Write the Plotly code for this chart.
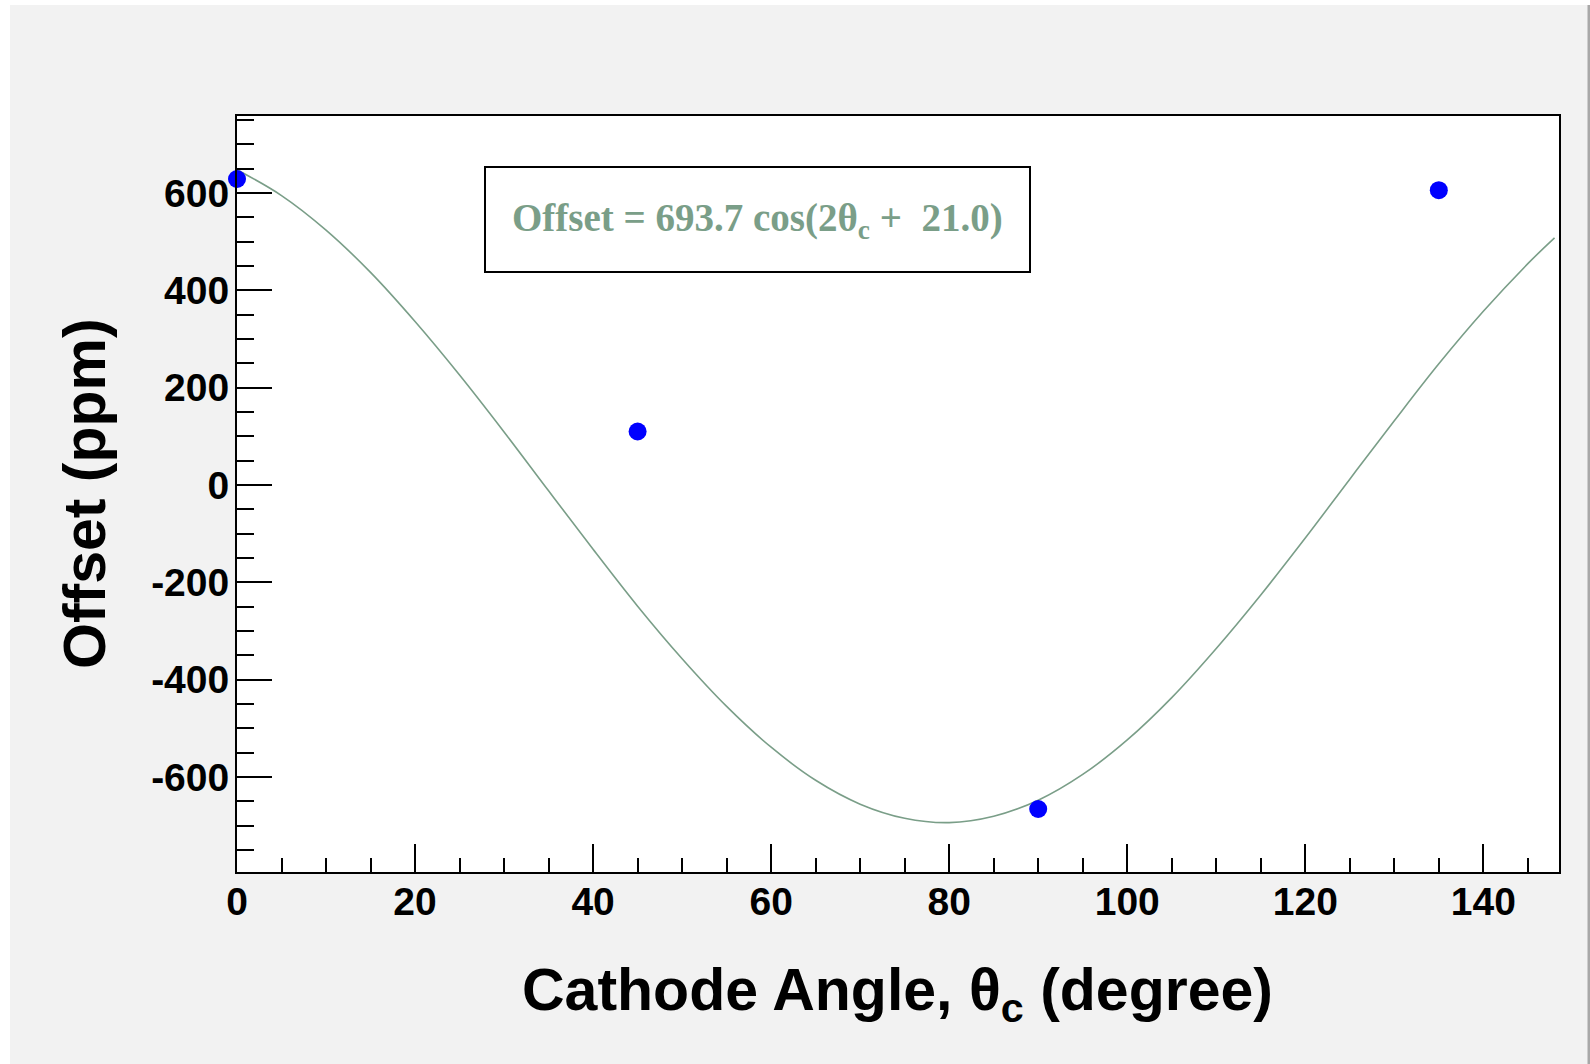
import plotly.graph_objects as go

# Measured points
theta_pts = [0, 45, 90, 135]
offset_pts = [629, 110, -666, 606]

# Fit curve, values
theta_fit = [0, 5, 10, 15, 20, 25, 30, 35, 40, 45, 50, 55, 60, 65, 70, 75, 80, 85,
             90, 95, 100, 105, 110, 115, 120, 125, 130, 135, 140, 145, 148]
offset_fit = [648, 595, 524, 437, 336, 226, 109, -12, -132, -249, -357, -455, -539,
              -607, -656, -685, -694, -681, -648, -595, -524, -437, -336, -226,
              -109, 12, 132, 249, 357, 455, 508]

fit_label = "Offset = 693.7 cos(2θ<sub>c</sub> + \u00a021.0)"
x_title = "Cathode Angle, θ<sub>c</sub> (degree)"
y_title = "Offset (ppm)"
x_ticks = [0, 20, 40, 60, 80, 100, 120, 140]
y_ticks = [-600, -400, -200, 0, 200, 400, 600]

W, H = 1590, 1064
L, R, T, B = 237, 1559, 116, 872
pw, ph = R - L, B - T

def px(x):
    return (x - L) / pw

def py(y):
    return (B - y) / ph

fit_color = "#7a9e88"

fig = go.Figure()
fig.add_trace(go.Scatter(x=theta_fit, y=offset_fit, mode="lines",
                         line=dict(color=fit_color, width=1.6, shape="spline"),
                         showlegend=False, hoverinfo="skip"))
fig.add_trace(go.Scatter(x=theta_pts, y=offset_pts, mode="markers",
                         marker=dict(color="#0000ff", size=18, line=dict(width=0)),
                         showlegend=False, cliponaxis=False))

tickfont = dict(family="Liberation Sans, Arial", size=39, color="black", weight="bold")

fig.update_xaxes(range=[0, 148.5], tickmode="array", tickvals=x_ticks,
                 ticktext=[str(v) for v in x_ticks],
                 ticks="inside", ticklen=28, tickwidth=2, tickcolor="black",
                 showline=True, linecolor="black", linewidth=2, mirror=True,
                 showgrid=False, zeroline=False, tickfont=tickfont,
                 ticklabelstandoff=-6,
                 minor=dict(dtick=5, tick0=0, ticks="inside", ticklen=14,
                            tickwidth=2, tickcolor="black", showgrid=False))
fig.update_yaxes(range=[-795.5, 758.5], tickmode="array", tickvals=y_ticks,
                 ticktext=[str(v) for v in y_ticks],
                 ticks="inside", ticklen=35, tickwidth=2, tickcolor="black",
                 showline=True, linecolor="black", linewidth=2, mirror=True,
                 showgrid=False, zeroline=False, tickfont=tickfont,
                 ticklabelstandoff=-2,
                 minor=dict(dtick=50, tick0=0, ticks="inside", ticklen=17,
                            tickwidth=2, tickcolor="black", showgrid=False))

shapes = [
    # white page margin (left and top)
    dict(type="rect", xref="paper", yref="paper", x0=px(-5), x1=px(10),
         y0=py(H + 5), y1=py(-5), fillcolor="white", line=dict(width=0), layer="below"),
    dict(type="rect", xref="paper", yref="paper", x0=px(-5), x1=px(W + 5),
         y0=py(5), y1=py(-5), fillcolor="white", line=dict(width=0), layer="below"),
    # right edge shadow
    dict(type="rect", xref="paper", yref="paper", x0=px(1587.5), x1=px(W + 5),
         y0=py(H + 5), y1=py(5), fillcolor="#a8a8a8", line=dict(width=0), layer="below"),
    # fit label box
    dict(type="rect", xref="paper", yref="paper", x0=px(485), x1=px(1030),
         y0=py(272), y1=py(167), fillcolor="white", line=dict(color="black", width=2)),
]

annotations = [
    dict(text=fit_label, xref="paper", yref="paper", x=px(757), y=py(220),
         xanchor="center", yanchor="middle", showarrow=False,
         font=dict(family="Liberation Serif, Times New Roman", size=39,
                   color=fit_color, weight="bold")),
    dict(text=x_title, xref="paper", yref="paper", x=px(897), y=py(994),
         xanchor="center", yanchor="middle", showarrow=False,
         font=dict(family="Liberation Sans, Arial", size=59, color="black", weight="bold")),
    dict(text=y_title, xref="paper", yref="paper", x=px(85), y=py(494),
         xanchor="center", yanchor="middle", showarrow=False, textangle=-90,
         font=dict(family="Liberation Sans, Arial", size=59, color="black", weight="bold")),
]

fig.update_layout(width=W, height=H, autosize=False,
                  margin=dict(l=L, r=W - R, t=T, b=H - B, pad=0),
                  paper_bgcolor="#f2f2f2", plot_bgcolor="white",
                  shapes=shapes, annotations=annotations)

fig.write_html("out.html")
